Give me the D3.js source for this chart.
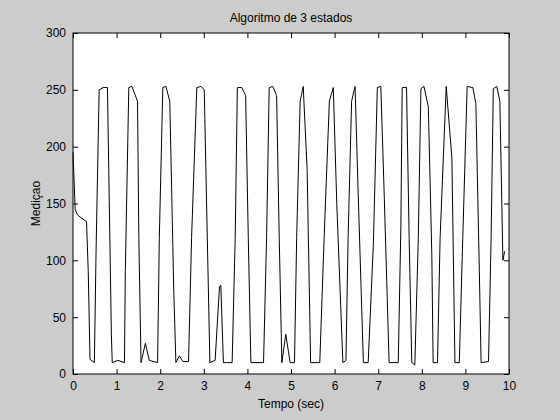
<!DOCTYPE html>
<html><head><meta charset="utf-8">
<script src="https://cdn.jsdelivr.net/npm/d3@7"></script>
<style>body{margin:0;background:#cccccc}svg{display:block;font-family:"Liberation Sans",Arial,sans-serif}</style>
</head><body>
<script>
// samples
const tempo = [0,0.05,0.1,0.31,0.35,0.39,0.49,0.53,0.6,0.69,0.79,0.82,0.88,0.9,1.03,1.18,1.2,1.28,1.35,1.48,1.51,1.56,1.66,1.75,1.94,1.98,2.06,2.13,2.22,2.31,2.36,2.44,2.52,2.65,2.72,2.84,2.94,3.01,3.08,3.14,3.26,3.36,3.39,3.45,3.54,3.65,3.72,3.77,3.87,3.96,4.02,4.08,4.37,4.44,4.5,4.58,4.67,4.73,4.79,4.88,4.98,5.08,5.13,5.21,5.28,5.37,5.45,5.55,5.66,5.76,5.88,5.97,6.05,6.19,6.26,6.31,6.39,6.47,6.54,6.66,6.77,6.89,6.98,7.06,7.14,7.25,7.46,7.52,7.55,7.65,7.71,7.77,7.84,7.92,7.98,8.05,8.15,8.23,8.26,8.36,8.42,8.56,8.69,8.76,8.86,8.94,9.04,9.17,9.24,9.32,9.36,9.53,9.59,9.64,9.72,9.79,9.86,9.9];
const medicao = [195,145,140,134,90,13,10,110,250,252,252,180,35,10,12,10,90,252,253,240,120,10,27,12,10,120,252,253,240,75,10,16,11,11,120,252,253,250,120,10,12,77,78,10,10,10,120,252,252,245,120,10,10,120,252,253,245,120,10,35,10,10,120,240,253,180,10,10,10,120,240,252,150,10,12,120,240,253,160,10,10,115,252,253,155,10,10,130,252,252,120,10,8,120,251,253,235,105,10,10,120,253,190,10,10,120,253,252,238,90,10,11,120,251,253,240,100,108];
const xTicks = d3.range(0, 11, 1);
const yTicks = d3.range(0, 301, 50);

const W = 560, H = 420, L = 73, R = 509, T = 33, B = 374;
const svg = d3.select('body').append('svg').attr('width', W).attr('height', H);
const x = d3.scaleLinear().domain([0, 10]).range([L, R]);
const y = d3.scaleLinear().domain([0, 300]).range([B, T]);

svg.append('rect').attr('x', L).attr('y', T).attr('width', R - L).attr('height', B - T)
    .attr('fill', '#fff').attr('stroke', '#000');

const fs = 12;
svg.append('g').attr('transform', `translate(0,${B})`)
    .call(d3.axisBottom(x).tickValues(xTicks).tickSize(-5).tickPadding(7).tickFormat(d3.format('d')));
svg.append('g').attr('transform', `translate(0,${T})`)
    .call(d3.axisTop(x).tickValues(xTicks).tickSize(-5).tickFormat(''));
svg.append('g').attr('transform', `translate(${L},0)`)
    .call(d3.axisLeft(y).tickValues(yTicks).tickSize(-5).tickPadding(7));
svg.append('g').attr('transform', `translate(${R},0)`)
    .call(d3.axisRight(y).tickValues(yTicks).tickSize(-5).tickFormat(''));
svg.selectAll('.domain').remove();
svg.selectAll('.tick line').attr('stroke', '#000');
svg.selectAll('.tick text').attr('font-size', fs).attr('fill', '#000').attr('font-family', '"Liberation Sans",Arial,sans-serif');

svg.append('path')
    .datum(tempo.map((t, i) => [t, medicao[i]]))
    .attr('fill', 'none').attr('stroke', '#000').attr('stroke-width', 1)
    .attr('d', d3.line().x(d => x(d[0])).y(d => y(d[1])));

svg.append('text').attr('x', (L + R) / 2).attr('y', 22).attr('text-anchor', 'middle')
    .attr('font-size', fs).text('Algoritmo de 3 estados');
svg.append('text').attr('x', (L + R) / 2).attr('y', 408).attr('text-anchor', 'middle')
    .attr('font-size', fs).text('Tempo (sec)');
svg.append('text').attr('transform', `translate(40,${(T + B) / 2}) rotate(-90)`).attr('text-anchor', 'middle')
    .attr('font-size', fs).text('Mediçao');
</script>
</body></html>
